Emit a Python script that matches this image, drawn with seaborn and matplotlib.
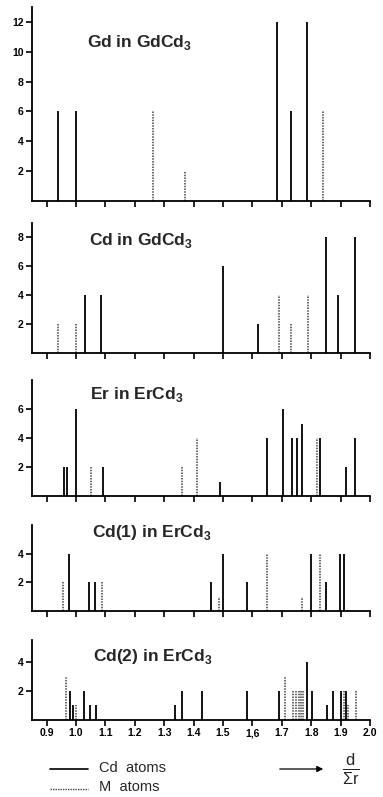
import numpy as np
import matplotlib
matplotlib.use("Agg")
import matplotlib.pyplot as plt
import seaborn as sns
from matplotlib.lines import Line2D

sns.set_theme(style="ticks")
plt.rcParams['font.family'] = ['Liberation Sans', 'DejaVu Sans']
plt.rcParams['mathtext.fontset'] = 'custom'
plt.rcParams['mathtext.rm'] = 'Liberation Sans'
plt.rcParams['mathtext.bf'] = 'Liberation Sans:bold'

# --- data: d / sum(r) positions and number of neighbours ---
# Gd in GdCd3
gd_cd_x = [0.94, 1.00, 1.685, 1.73, 1.785]
gd_cd_n = [6, 6, 12, 6, 12]
gd_m_x = [1.26, 1.37, 1.84]
gd_m_n = [6, 2, 6]

# Cd in GdCd3
cdg_cd_x = [1.03, 1.085, 1.50, 1.62, 1.85, 1.89, 1.95]
cdg_cd_n = [4, 4, 6, 2, 8, 4, 8]
cdg_m_x = [0.94, 1.00, 1.69, 1.73, 1.79]
cdg_m_n = [2, 2, 4, 2, 4]

# Er in ErCd3
er_cd_x = [0.96, 0.97, 1.00, 1.09, 1.49, 1.65, 1.705, 1.735, 1.75, 1.767, 1.83, 1.92, 1.95]
er_cd_n = [2, 2, 6, 2, 1, 4, 6, 4, 4, 5, 4, 2, 4]
er_m_x = [1.05, 1.36, 1.41, 1.818]
er_m_n = [2, 2, 4, 4]

# Cd(1) in ErCd3
cd1_cd_x = [0.977, 1.045, 1.065, 1.46, 1.50, 1.58, 1.80, 1.85, 1.897, 1.91]
cd1_cd_n = [4, 2, 2, 2, 4, 2, 4, 2, 4, 4]
cd1_m_x = [0.957, 1.088, 1.486, 1.648, 1.77, 1.83]
cd1_m_n = [2, 2, 1, 4, 1, 4]

# Cd(2) in ErCd3
cd2_cd_x = [0.98, 0.989, 1.027, 1.046, 1.069, 1.338, 1.361, 1.43, 1.58, 1.69,
            1.784, 1.803, 1.852, 1.873, 1.902, 1.917]
cd2_cd_n = [2, 1, 2, 1, 1, 1, 2, 2, 2, 2, 4, 2, 1, 2, 2, 2]
cd2_m_x = [0.966, 1.000, 1.71, 1.738, 1.748, 1.757, 1.764, 1.773, 1.91, 1.925, 1.953]
cd2_m_n = [3, 1, 3, 2, 2, 2, 2, 2, 2, 1, 2]

titles = [r"Gd in GdCd$_\mathbf{3}$", r"Cd in GdCd$_\mathbf{3}$", r"Er in ErCd$_\mathbf{3}$",
          r"Cd(1) in ErCd$_\mathbf{3}$", r"Cd(2) in ErCd$_\mathbf{3}$"]
panels = [(gd_cd_x, gd_cd_n, gd_m_x, gd_m_n),
          (cdg_cd_x, cdg_cd_n, cdg_m_x, cdg_m_n),
          (er_cd_x, er_cd_n, er_m_x, er_m_n),
          (cd1_cd_x, cd1_cd_n, cd1_m_x, cd1_m_n),
          (cd2_cd_x, cd2_cd_n, cd2_m_x, cd2_m_n)]
ymax = [13, 9, 8, 6, 5.5]
yticks = [[2, 4, 6, 8, 10, 12], [2, 4, 6, 8], [2, 4, 6], [2, 4], [2, 4]]
xticks = [0.9, 1.0, 1.1, 1.2, 1.3, 1.4, 1.5, 1.6, 1.7, 1.8, 1.9, 2.0]
xlabels = ['0.9', '1.0', '1.1', '1.2', '1.3', '1.4', '1.5', '1,6', '1.7', '1.8', '1.9', '2.0']

W, H = 383, 797
fig = plt.figure(figsize=(W / 100, H / 100), dpi=100)

# axes boxes in pixels: (top, baseline)
boxes = [(7, 201), (223, 353), (380, 496), (525, 611), (640, 720)]
title_pos = [(87, 43), (89, 240), (90, 394), (92, 532), (93, 656)]
left, right = 32, 370

for i, (top, base) in enumerate(boxes):
    ax = fig.add_axes([left / W, 1 - base / H, (right - left) / W, (base - top) / H])
    cx, cn, mx, mn = panels[i]
    ax.vlines(cx, 0, cn, colors='black', lw=1.3)
    ax.vlines(mx, 0, mn, colors='#444444', lw=1.1, linestyles=(0, (1, 0.8)))
    ax.set_xlim(0.85, 2.0)
    ax.set_ylim(0, ymax[i])
    ax.set_yticks(yticks[i])
    ax.set_yticklabels([str(t) for t in yticks[i]], fontsize=7.5, fontweight='bold')
    ax.set_xticks(xticks)
    if i == len(boxes) - 1:
        ax.set_xticklabels(xlabels, fontsize=7.5, fontweight='bold')
    else:
        ax.set_xticklabels([])
    ax.tick_params(direction='out', length=4, width=1.2, colors='black', pad=2)
    for s in ['left', 'bottom']:
        ax.spines[s].set_linewidth(1.3)
        ax.spines[s].set_color('black')
    sns.despine(ax=ax)
    ax.patch.set_alpha(0)
    tx, ty = title_pos[i]
    fig.text(tx / W, 1 - ty / H, titles[i], fontsize=12.5, fontweight='bold',
             va='center', ha='left')

# legend and axis label at the bottom
fig.add_artist(Line2D([50 / W, 88 / W], [1 - 769 / H, 1 - 769 / H], color='black', lw=1.2))
fig.add_artist(Line2D([50 / W, 88 / W], [1 - 789 / H, 1 - 789 / H], color='#444444', lw=1.0,
                      linestyle=(0, (1, 0.8))))
fig.text(99 / W, 1 - 768 / H, "Cd  atoms", fontsize=10.5, va='center', ha='left')
fig.text(99 / W, 1 - 787 / H, "M  atoms", fontsize=10.5, va='center', ha='left')
fig.add_artist(matplotlib.patches.FancyArrowPatch(
    (277 / W, 1 - 769 / H), (326 / W, 1 - 769 / H), transform=fig.transFigure,
    arrowstyle='-|>', mutation_scale=9, lw=0.9, color='black'))
fig.text(351 / W, 1 - 769 / H, r'$\frac{\mathrm{d}}{\Sigma\mathrm{r}}$', fontsize=17,
         va='center', ha='center')

fig.savefig('out.png', dpi=100)
